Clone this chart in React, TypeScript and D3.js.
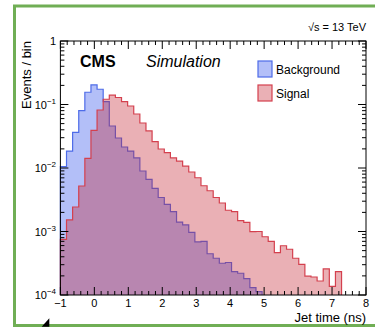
import React from "react";
import * as d3 from "d3";

// Jet time histograms, 50 bins from -1 to 8 ns (normalised, events per bin)
const binLow = -1;
const binHigh = 8;
const nBins = 50;

const backgroundValues = [
  0.0105, 0.0185, 0.0365, 0.0798, 0.156, 0.203, 0.174, 0.111, 0.0459, 0.0297,
  0.0214, 0.0185, 0.0144, 0.00897, 0.00664, 0.00479, 0.00343, 0.00268, 0.00206, 0.00141,
  0.00127, 0.00097, 0.000684, 0.000701, 0.000446, 0.000379, 0.000316, 0.000325, 0.000233, 0.00022,
  0.000181, 0.000131, 0.000113, 0, 0, 0, 0, 0, 0, 0,
  0, 0, 0, 0, 0, 0, 0, 0, 0, 0,
];

const signalValues = [
  0.000754, 0.00152, 0.00243, 0.00521, 0.0142, 0.039, 0.0819, 0.121, 0.14, 0.129,
  0.111, 0.0947, 0.0709, 0.0511, 0.0383, 0.0261, 0.0199, 0.0175, 0.0144, 0.0128,
  0.0107, 0.00865, 0.00702, 0.00525, 0.00438, 0.00343, 0.00281, 0.00216, 0.00205, 0.00148,
  0.00139, 0.000993, 0.001, 0.000826, 0.000697, 0.000466, 0.000597, 0.000525, 0.000379, 0.000304,
  0.000198, 0.000192, 0.000166, 0.000257, 0.000137, 0.000233, 0, 0, 0, 0,
];

const xMajorTicks = [-1, 0, 1, 2, 3, 4, 5, 6, 7, 8];
const yDecades = [-4, -3, -2, -1, 0];
const legendLabels = ["Background", "Signal"];

const W = 375;
const H = 328;
const plot = { left: 60.4, right: 366, top: 41, bottom: 295 };
const FONT = "'Liberation Sans', Arial, Helvetica, sans-serif";

const blueFill = "#2448ea";
const blueLine = "#4e6ce8";
const redFill = "#c41e2a";
const redLine = "#d4404e";
const fillOpacity = 0.35;

export default function App() {
  const x = d3.scaleLinear().domain([binLow, binHigh]).range([plot.left, plot.right]);
  const y = d3.scaleLog().domain([1e-4, 1]).range([plot.bottom, plot.top]);
  const width = (binHigh - binLow) / nBins;
  const yMin = 1e-4;

  const stepPoints = (vals: number[]): [number, number][] => {
    const pts: [number, number][] = [];
    let last = -1;
    vals.forEach((v, i) => {
      if (v > 0) last = i;
    });
    pts.push([binLow, yMin]);
    for (let i = 0; i <= last; i++) {
      const lo = binLow + i * width;
      const hi = lo + width;
      const v = Math.max(vals[i], yMin);
      pts.push([lo, v]);
      pts.push([hi, v]);
    }
    pts.push([binLow + (last + 1) * width, yMin]);
    return pts;
  };

  const area = d3
    .area<[number, number]>()
    .x((d) => x(d[0]))
    .y0(y(yMin))
    .y1((d) => y(d[1]));
  const line = d3
    .line<[number, number]>()
    .x((d) => x(d[0]))
    .y((d) => y(d[1]));

  const bgPts = stepPoints(backgroundValues);
  const sigPts = stepPoints(signalValues);

  const xMinor = d3.range(0, 46).map((i) => binLow + i * 0.2).filter((v) => v <= binHigh + 1e-9);
  const yMinor: number[] = [];
  yDecades.slice(0, -1).forEach((d) => {
    for (let k = 2; k <= 9; k++) yMinor.push(k * Math.pow(10, d));
  });

  const axisColor = "#000";
  const majLen = 8;
  const minLen = 4;

  return (
    <svg
      width={W}
      height={H}
      style={{ position: "absolute", left: 0, top: 0, background: "#fff" }}
      fontFamily={FONT}
    >
      <rect x={0} y={0} width={W} height={H} fill="#fff" />
      {/* outer frame */}
      <rect x={14.5} y={6} width={400} height={319.5} fill="none" stroke="#70ae55" strokeWidth={3} />

      {/* histograms */}
      <path d={area(bgPts) || ""} fill={blueFill} fillOpacity={fillOpacity} />
      <path d={line(bgPts) || ""} fill="none" stroke={blueLine} strokeWidth={1.2} />
      <path d={area(sigPts) || ""} fill={redFill} fillOpacity={fillOpacity} />
      <path d={line(sigPts) || ""} fill="none" stroke={redLine} strokeWidth={1.2} />

      {/* frame box */}
      <rect
        x={plot.left}
        y={plot.top}
        width={plot.right - plot.left}
        height={plot.bottom - plot.top}
        fill="none"
        stroke={axisColor}
        strokeWidth={1}
      />

      {/* x ticks bottom and top */}
      {xMinor.map((v, i) => {
        const isMajor = Math.abs(v - Math.round(v)) < 1e-6;
        const len = isMajor ? majLen : minLen;
        return (
          <g key={"xt" + i} stroke={axisColor} strokeWidth={1}>
            <line x1={x(v)} x2={x(v)} y1={plot.bottom} y2={plot.bottom - len} />
            <line x1={x(v)} x2={x(v)} y1={plot.top} y2={plot.top + len} />
          </g>
        );
      })}
      {xMajorTicks.map((v) => (
        <text
          key={"xl" + v}
          x={x(v)}
          y={307}
          fontSize={11}
          textAnchor="middle"
          fill="#000"
        >
          {v < 0 ? "\u2212" + Math.abs(v) : String(v)}
        </text>
      ))}

      {/* y ticks left and right */}
      {yDecades.map((d) => (
        <g key={"yM" + d} stroke={axisColor} strokeWidth={1}>
          <line x1={plot.left} x2={plot.left + majLen} y1={y(Math.pow(10, d))} y2={y(Math.pow(10, d))} />
          <line x1={plot.right} x2={plot.right - majLen} y1={y(Math.pow(10, d))} y2={y(Math.pow(10, d))} />
        </g>
      ))}
      {yMinor.map((v, i) => (
        <g key={"ym" + i} stroke={axisColor} strokeWidth={1}>
          <line x1={plot.left} x2={plot.left + minLen} y1={y(v)} y2={y(v)} />
          <line x1={plot.right} x2={plot.right - minLen} y1={y(v)} y2={y(v)} />
        </g>
      ))}
      {yDecades.map((d) => (
        <text key={"yl" + d} x={56} y={y(Math.pow(10, d)) + 4} fontSize={11} textAnchor="end" fill="#000">
          {d === 0 ? (
            "1"
          ) : (
            <>
              10
              <tspan dy={-5} fontSize={8}>
                {"\u2212" + Math.abs(d)}
              </tspan>
            </>
          )}
        </text>
      ))}

      {/* axis titles */}
      <text
        transform={`translate(31,${plot.top}) rotate(-90)`}
        fontSize={13}
        textAnchor="end"
        fill="#000"
      >
        Events / bin
      </text>
      <text x={plot.right} y={322} fontSize={13} textAnchor="end" fill="#000">
        Jet time (ns)
      </text>

      {/* labels */}
      <text x={80} y={67} fontSize={16} fontWeight="bold" fill="#000">
        CMS
      </text>
      <text x={146} y={67} fontSize={16} fontStyle="italic" fill="#000">
        Simulation
      </text>
      <text x={plot.right} y={31} fontSize={11} textAnchor="end" fill="#000">
        {"\u221As = 13 TeV"}
      </text>

      {/* legend */}
      {legendLabels.map((lab, i) => {
        const top = 61 + i * 24;
        const fill = i === 0 ? blueFill : redFill;
        const stroke = i === 0 ? blueLine : redLine;
        return (
          <g key={lab}>
            <rect x={258} y={top} width={14} height={16} fill="#fff" />
            <rect x={258} y={top} width={14} height={16} fill={fill} fillOpacity={fillOpacity} stroke={stroke} strokeWidth={1.2} />
            <text x={276} y={top + 12.5} fontSize={12} fill="#000">
              {lab}
            </text>
          </g>
        );
      })}

      {/* pointer mark */}
      <path d="M41.7,326.7 L49.3,318.3 L49.3,326.7 Z" fill="#000" />
    </svg>
  );
}
